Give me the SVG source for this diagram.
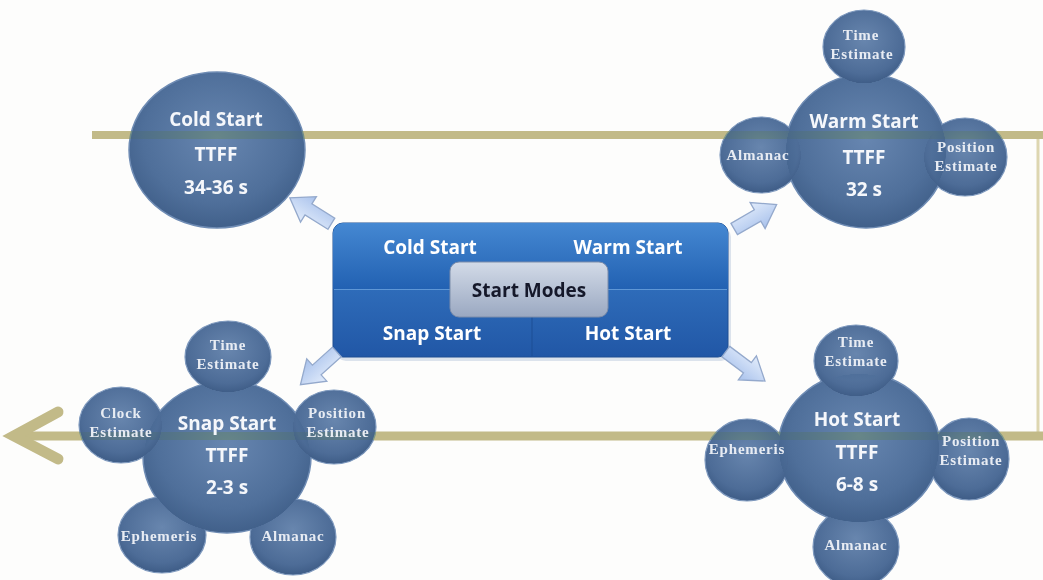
<svg xmlns="http://www.w3.org/2000/svg" width="1043" height="580" viewBox="0 0 1043 580">
<style>
.main{fill:url(#gBig);stroke:#6f8cb4;stroke-width:1.5;mix-blend-mode:darken}
.sm{fill:url(#gSmall);stroke:#7d98bd;stroke-width:1.2;mix-blend-mode:darken}
.t1{font-family:"Open Sans","Noto Sans",sans-serif;font-weight:bold;font-size:19px;fill:#f5f7fb;text-anchor:middle}
.t2{font-family:"Liberation Serif","Times New Roman",serif;font-weight:bold;font-size:15px;letter-spacing:0.8px;fill:#e8ecf3;text-anchor:middle}
.bl{font-family:"Open Sans","Noto Sans",sans-serif;font-weight:bold;font-size:19px;fill:#ffffff;text-anchor:middle}
.band{stroke:#c2ba88;fill:none}
.arr{fill:url(#gArr);stroke:#94a9cc;stroke-width:1.3}
</style>
<defs>
<radialGradient id="gBig" cx="50%" cy="42%" r="60%">
<stop offset="0" stop-color="#6786b0"/>
<stop offset="0.7" stop-color="#4f6f9a"/>
<stop offset="1" stop-color="#3f5e88"/>
</radialGradient>
<radialGradient id="gSmall" cx="50%" cy="40%" r="62%">
<stop offset="0" stop-color="#6886ae"/>
<stop offset="0.75" stop-color="#4d6c97"/>
<stop offset="1" stop-color="#3c5a84"/>
</radialGradient>
<linearGradient id="gTop" x1="0" y1="0" x2="0" y2="1">
<stop offset="0" stop-color="#4588d2"/>
<stop offset="1" stop-color="#2261b2"/>
</linearGradient>
<linearGradient id="gBot" x1="0" y1="0" x2="0" y2="1">
<stop offset="0" stop-color="#3b80cc"/>
<stop offset="1" stop-color="#2157a6"/>
</linearGradient>
<linearGradient id="gMid" x1="0" y1="0" x2="0" y2="1">
<stop offset="0" stop-color="#d3dbe8"/>
<stop offset="1" stop-color="#9aa8c1"/>
</linearGradient>
<linearGradient id="gArr" x1="0" y1="0" x2="0" y2="1">
<stop offset="0" stop-color="#e2ecfb"/>
<stop offset="1" stop-color="#a9c2ec"/>
</linearGradient>
<path id="blk" d="M-24,-6.5 L3,-6.5 L3,-15 L25,0 L3,15 L3,6.5 L-24,6.5 Z"/>
</defs>
<rect width="1043" height="580" fill="#fdfdfc"/>

<g id="band">
<line class="band" x1="92" y1="135" x2="1043" y2="135" stroke-width="8"/>
<line x1="1038" y1="139" x2="1038" y2="432" stroke="#ddd6b0" stroke-width="3"/>
<line class="band" x1="18" y1="436" x2="1043" y2="436" stroke-width="9"/>
<polyline class="band" points="58,412 14,436 58,459" stroke-width="11" stroke-linecap="round" stroke-linejoin="miter"/>
</g>

<g id="center-box">
<rect x="336" y="227" width="395" height="134" rx="10" fill="#9fb3cf" opacity="0.35"/>
<rect x="333" y="223" width="395" height="134" rx="10" fill="url(#gBot)" stroke="#1f4f92" stroke-width="1"/>
<path d="M343,223 H718 A10,10 0 0 1 728,233 V289 H333 V233 A10,10 0 0 1 343,223 Z" fill="url(#gTop)"/>
<line x1="334" y1="289.5" x2="727" y2="289.5" stroke="#5f97d6" stroke-width="1"/>
<line x1="532" y1="290" x2="532" y2="356" stroke="#1d4f95" stroke-width="1"/>
<text class="bl" x="430" y="254">Cold Start</text>
<text class="bl" x="628" y="254">Warm Start</text>
<text class="bl" x="432" y="340">Snap Start</text>
<text class="bl" x="628" y="340">Hot Start</text>
<rect x="450" y="262" width="158" height="55" rx="9" fill="url(#gMid)" stroke="#7d8daa" stroke-width="1"/>
<text class="bl" x="529" y="297" style="fill:#15182a">Start Modes</text>
</g>

<g id="cold-start">
<ellipse class="main" cx="217" cy="150" rx="88" ry="78"/>
<text class="t1" x="216" y="126">Cold Start</text>
<text class="t1" x="216" y="161">TTFF</text>
<text class="t1" x="216" y="194">34-36 s</text>
</g>

<g id="warm-start">
<ellipse class="main" cx="866" cy="151" rx="81" ry="77"/>
<text class="t1" x="864" y="128">Warm Start</text>
<text class="t1" x="864" y="164">TTFF</text>
<text class="t1" x="864" y="196">32 s</text>
</g>
<g id="warm-time"><ellipse class="sm" cx="864" cy="47" rx="41" ry="37"/><text class="t2" x="861" y="40">Time</text><text class="t2" x="862" y="59">Estimate</text></g>
<g id="warm-almanac"><ellipse class="sm" cx="761" cy="155" rx="41" ry="38"/><text class="t2" x="758" y="160">Almanac</text></g>
<g id="warm-position"><ellipse class="sm" cx="965" cy="157" rx="42" ry="39"/><text class="t2" x="966" y="152">Position</text><text class="t2" x="966" y="171">Estimate</text></g>

<g id="snap-start">
<ellipse class="main" cx="227" cy="457" rx="84" ry="76"/>
<text class="t1" x="227" y="430">Snap Start</text>
<text class="t1" x="227" y="462">TTFF</text>
<text class="t1" x="227" y="494">2-3 s</text>
</g>
<g id="snap-time"><ellipse class="sm" cx="228" cy="357" rx="43" ry="36"/><text class="t2" x="228" y="350">Time</text><text class="t2" x="228" y="369">Estimate</text></g>
<g id="snap-clock"><ellipse class="sm" cx="121" cy="425" rx="42" ry="38"/><text class="t2" x="121" y="418">Clock</text><text class="t2" x="121" y="437">Estimate</text></g>
<g id="snap-position"><ellipse class="sm" cx="334" cy="427" rx="42" ry="37"/><text class="t2" x="337" y="418">Position</text><text class="t2" x="338" y="437">Estimate</text></g>
<g id="snap-ephemeris"><ellipse class="sm" cx="162" cy="535" rx="44" ry="38"/><text class="t2" x="159" y="541">Ephemeris</text></g>
<g id="snap-almanac"><ellipse class="sm" cx="293" cy="537" rx="43" ry="38"/><text class="t2" x="293" y="541">Almanac</text></g>

<g id="hot-start">
<ellipse class="main" cx="859" cy="448" rx="81" ry="75"/>
<text class="t1" x="857" y="426">Hot Start</text>
<text class="t1" x="857" y="459">TTFF</text>
<text class="t1" x="857" y="491">6-8 s</text>
</g>
<g id="hot-time"><ellipse class="sm" cx="856" cy="361" rx="42" ry="36"/><text class="t2" x="856" y="347">Time</text><text class="t2" x="856" y="366">Estimate</text></g>
<g id="hot-ephemeris"><ellipse class="sm" cx="747" cy="460" rx="42" ry="41"/><text class="t2" x="747" y="454">Ephemeris</text></g>
<g id="hot-position"><ellipse class="sm" cx="969" cy="459" rx="40" ry="41"/><text class="t2" x="971" y="446">Position</text><text class="t2" x="971" y="465">Estimate</text></g>
<g id="hot-almanac"><ellipse class="sm" cx="856" cy="547" rx="43" ry="40"/><text class="t2" x="856" y="550">Almanac</text></g>

<g id="connectors">
<use href="#blk" class="arr" transform="translate(311,211) rotate(-148)"/>
<use href="#blk" class="arr" transform="translate(755,217) rotate(-30)"/>
<use href="#blk" class="arr" transform="translate(319,368) rotate(138)"/>
<use href="#blk" class="arr" transform="translate(745,366) rotate(37)"/>
</g>
</svg>
